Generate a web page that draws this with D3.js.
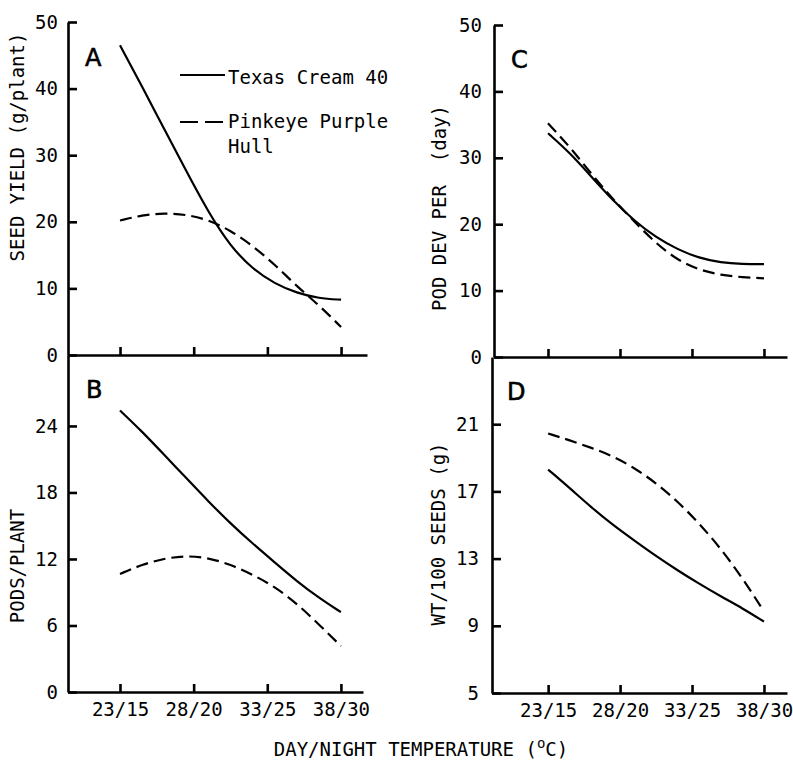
<!DOCTYPE html>
<html lang="en">
<meta charset="utf-8">
<script src="https://d3js.org/d3.v7.min.js"></script>
<style>
  body { margin: 0; background: #fff; }
  svg text { font-family: "DejaVu Sans Mono", monospace; }
</style>
<body>
<div id="my_dataviz"></div>

<script>
var dayTemps = [23, 24.5, 26, 27.5, 29, 30.5, 32, 33.5, 35, 36.5, 38];
var tickTemps = [23, 28, 33, 38];
var tickLabels = ["23/15", "28/20", "33/25", "38/30"];
var seriesNames = ["Texas Cream 40", "Pinkeye Purple", "Hull"];

var seedYieldTexas   = [46.5, 40.3, 33.9, 27.6, 21.4, 16.3, 12.9, 10.7, 9.3, 8.5, 8.3];
var seedYieldPinkeye = [20.2, 21.0, 21.3, 21.1, 20.3, 18.7, 16.4, 13.6, 10.3, 7.5, 4.2];
var podsTexas        = [25.4, 23.5, 21.4, 19.3, 17.2, 15.2, 13.4, 11.7, 10.0, 8.5, 7.2];
var podsPinkeye      = [10.65, 11.5, 12.05, 12.3, 12.1, 11.5, 10.6, 9.5, 8.0, 6.1, 4.15];
var podDevTexas      = [33.7, 30.8, 27.2, 23.6, 20.5, 18.0, 16.2, 14.9, 14.2, 14.0, 14.0];
var podDevPinkeye    = [35.2, 31.7, 27.6, 23.75, 20.4, 17.1, 14.6, 13.1, 12.35, 12.0, 11.85];
var seedWtTexas      = [18.3, 17.2, 16.05, 15.0, 14.07, 13.15, 12.3, 11.5, 10.75, 10.05, 9.25];
var seedWtPinkeye    = [20.45, 20.04, 19.6, 19.1, 18.4, 17.5, 16.4, 15.1, 13.6, 11.85, 9.85];

var seedYieldTicks = [0, 10, 20, 30, 40, 50];
var podsTicks = [0, 6, 12, 18, 24];
var podDevTicks = [0, 10, 20, 30, 40, 50];
var seedWtTicks = [5, 9, 13, 17, 21];

var width = 793, height = 761;

var panels = [
  {letter: "A", title: "SEED YIELD (g/plant)", solid: seedYieldTexas, dashed: seedYieldPinkeye,
   yDomain: [0, 50], yTicks: seedYieldTicks, xDomain: [19.47, 39.76],
   left: 68, right: 367, top: 22, bottom: 355, showX: false, pad: 10,
   letterX: 85, letterY: 66, titleX: 24, titleY: 147},
  {letter: "B", title: "PODS/PLANT", solid: podsTexas, dashed: podsPinkeye,
   yDomain: [0, 30.4], yTicks: podsTicks, xDomain: [19.47, 39.5],
   left: 68, right: 363, top: 355, bottom: 692, showX: true, pad: 10,
   letterX: 86, letterY: 398, titleX: 24, titleY: 566},
  {letter: "C", title: "POD DEV PER  (day)", solid: podDevTexas, dashed: podDevPinkeye,
   yDomain: [0, 50], yTicks: podDevTicks, xDomain: [19.25, 39.6],
   left: 494, right: 787, top: 25, bottom: 357, showX: false, pad: 12,
   letterX: 511, letterY: 68, titleX: 446, titleY: 208},
  {letter: "D", title: "WT/100 SEEDS (g)", solid: seedWtTexas, dashed: seedWtPinkeye,
   yDomain: [5, 25], yTicks: seedWtTicks, xDomain: [19.1, 39.6],
   left: 492, right: 787, top: 357, bottom: 693, showX: true, pad: 13,
   letterX: 507, letterY: 400, titleX: 445, titleY: 534}
];

var svg = d3.select("#my_dataviz")
  .append("svg")
    .attr("width", width)
    .attr("height", height)
    .style("background", "#fff");

panels.forEach(function(p) {
  var x = d3.scaleLinear().domain(p.xDomain).range([p.left, p.right]);
  var y = d3.scaleLinear().domain(p.yDomain).range([p.bottom, p.top]);

  var xAxis = svg.append("g")
      .attr("transform", "translate(0," + p.bottom + ")")
      .call(d3.axisBottom(x)
        .tickValues(tickTemps)
        .tickFormat(function(d, i) { return p.showX ? tickLabels[i] : ""; })
        .tickSizeInner(-8)
        .tickSizeOuter(0)
        .tickPadding(11));

  var yAxis = svg.append("g")
      .attr("transform", "translate(" + p.left + ",0)")
      .call(d3.axisLeft(y)
        .tickValues(p.yTicks)
        .tickSizeInner(-9)
        .tickSizeOuter(0)
        .tickPadding(p.pad));

  [xAxis, yAxis].forEach(function(a) {
    a.attr("font-family", null).attr("font-size", 19);
    a.select(".domain").attr("stroke", "#000").attr("stroke-width", 2.6);
    a.selectAll(".tick line").attr("stroke", "#000").attr("stroke-width", 2.6);
    a.selectAll(".tick text").attr("fill", "#000");
  });

  var line = d3.line()
      .x(function(d, i) { return x(dayTemps[i]); })
      .y(function(d) { return y(d); })
      .curve(d3.curveBasis);

  svg.append("path")
      .datum(p.solid)
      .attr("d", line)
      .attr("fill", "none")
      .attr("stroke", "#000")
      .attr("stroke-width", 2.2);

  svg.append("path")
      .datum(p.dashed)
      .attr("d", line)
      .attr("fill", "none")
      .attr("stroke", "#000")
      .attr("stroke-width", 2.2)
      .attr("stroke-dasharray", "12,6");

  svg.append("text")
      .attr("x", p.letterX)
      .attr("y", p.letterY)
      .text(p.letter)
      .style("font-family", "'DejaVu Sans', sans-serif")
      .style("font-size", "24px")
      .attr("stroke", "#000")
      .attr("stroke-width", 0.6);

  svg.append("text")
      .attr("transform", "translate(" + p.titleX + "," + p.titleY + ") rotate(-90)")
      .attr("text-anchor", "middle")
      .style("font-size", "19px")
      .style("white-space", "pre")
      .text(p.title);
});

// legend in panel A
svg.append("line")
    .attr("x1", 180).attr("x2", 225).attr("y1", 75).attr("y2", 75)
    .attr("stroke", "#000").attr("stroke-width", 2.2);
svg.append("line")
    .attr("x1", 180).attr("x2", 224).attr("y1", 122).attr("y2", 122)
    .attr("stroke", "#000").attr("stroke-width", 2.2)
    .attr("stroke-dasharray", "18,7");
svg.append("text").attr("x", 228).attr("y", 84).style("font-size", "19px").text(seriesNames[0]);
svg.append("text").attr("x", 228).attr("y", 128).style("font-size", "19px").text(seriesNames[1]);
svg.append("text").attr("x", 228).attr("y", 153).style("font-size", "19px").text(seriesNames[2]);

// shared x axis title
var xt = svg.append("text")
    .attr("x", 421)
    .attr("y", 756)
    .attr("text-anchor", "middle")
    .style("font-size", "19px");
xt.append("tspan").text("DAY/NIGHT TEMPERATURE (");
xt.append("tspan").attr("dy", -8).style("font-size", "14px").text("o");
xt.append("tspan").attr("dy", 8).text("C)");
</script>
</body>
</html>
